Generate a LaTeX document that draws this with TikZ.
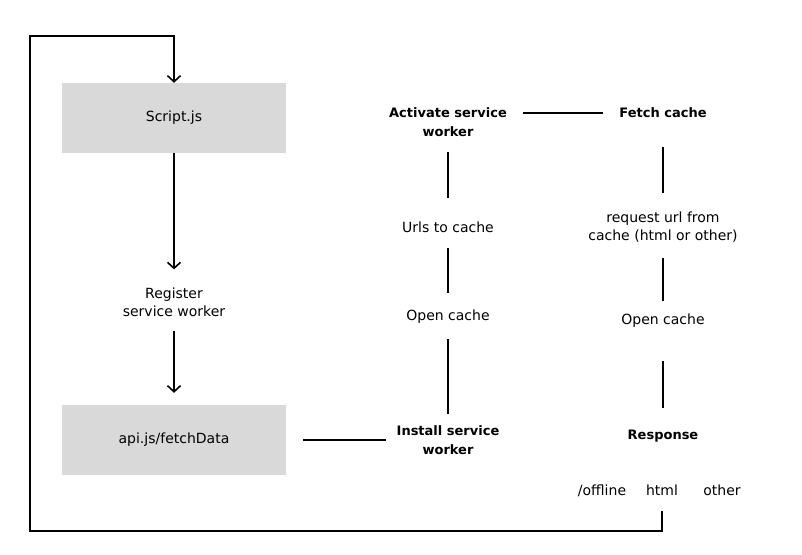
\documentclass[tikz,border=0pt]{standalone}
\usepackage{fontspec}
\setmainfont{DejaVu Sans}
\usetikzlibrary{arrows.meta}
\definecolor{boxgray}{HTML}{D9D9D9}
\begin{document}
\begin{tikzpicture}[x=1pt, y=-1pt,
    >={Straight Barb[length=6pt,width=13pt]},
    box/.style={fill=boxgray, minimum width=224pt, minimum height=70pt, font=\fontsize{14}{18}\selectfont},
    txt/.style={inner sep=0pt, align=center, font=\fontsize{14}{18}\selectfont},
    head/.style={inner sep=0pt, align=center, font=\fontsize{13}{19}\selectfont\bfseries},
    link/.style={line width=1.6pt, shorten <=15pt, shorten >=15pt}]
    \useasboundingbox (0,0) rectangle (802,554);

    % left column
    \node[box] (script) at (174,118) {Script.js};
    \node[txt] (register) at (174,302) {Register\\service worker};
    \node[box] (api) at (174,440) {api.js/fetchData};

    \draw[link, ->, shorten <=0pt, shorten >=18pt] (script) -- (register);
    \draw[link, ->, shorten <=14pt, shorten >=12pt] (register) -- (api);

    % install / activate
    \node[head] (install) at (448,440) {Install service\\worker};
    \node[txt] (opencacheA) at (448,317) {Open cache};
    \node[txt] (urls) at (448,227) {Urls to cache};
    \node[head] (activate) at (448,122) {Activate service\\worker};

    \draw[link, shorten <=17pt, shorten >=10pt] (api) -- (install);
    \draw[link, shorten >=11pt] (opencacheA) -- (install);
    \draw[link, shorten >=17pt] (urls) -- (opencacheA);
    \draw[link, shorten >=23pt] (activate) -- (urls);

    % fetch
    \node[head] (fetch) at (663,113) {Fetch cache};
    \node[txt] (request) at (663,227) {request url from\\cache (html or other)};
    \node[txt] (opencacheB) at (663,321) {Open cache};
    \node[head] (response) at (663,436) {Response};

    \draw[link, shorten <=16pt, shorten >=16pt] (activate.east |- fetch.west) -- (fetch.west);
    \draw[link, shorten <=29pt, shorten >=19pt] (fetch) -- (request);
    \draw[link, shorten <=16pt, shorten >=13pt] (request) -- (opencacheB);
    \draw[link, shorten <=33pt, shorten >=22pt] (opencacheB) -- (response);

    % response kinds
    \node[txt] (offline) at (602,491) {/offline};
    \node[txt] (html) at (662,490) {html};
    \node[txt] (other) at (722,490) {other};

    % loop back to the script
    \coordinate (loopbottom) at (30,531);
    \coordinate (looptop) at (30,36);
    \draw[link, ->, shorten >=0pt, rounded corners=0pt] (html.south) |- (loopbottom) -- (looptop) -| (script.north);
\end{tikzpicture}
\end{document}
